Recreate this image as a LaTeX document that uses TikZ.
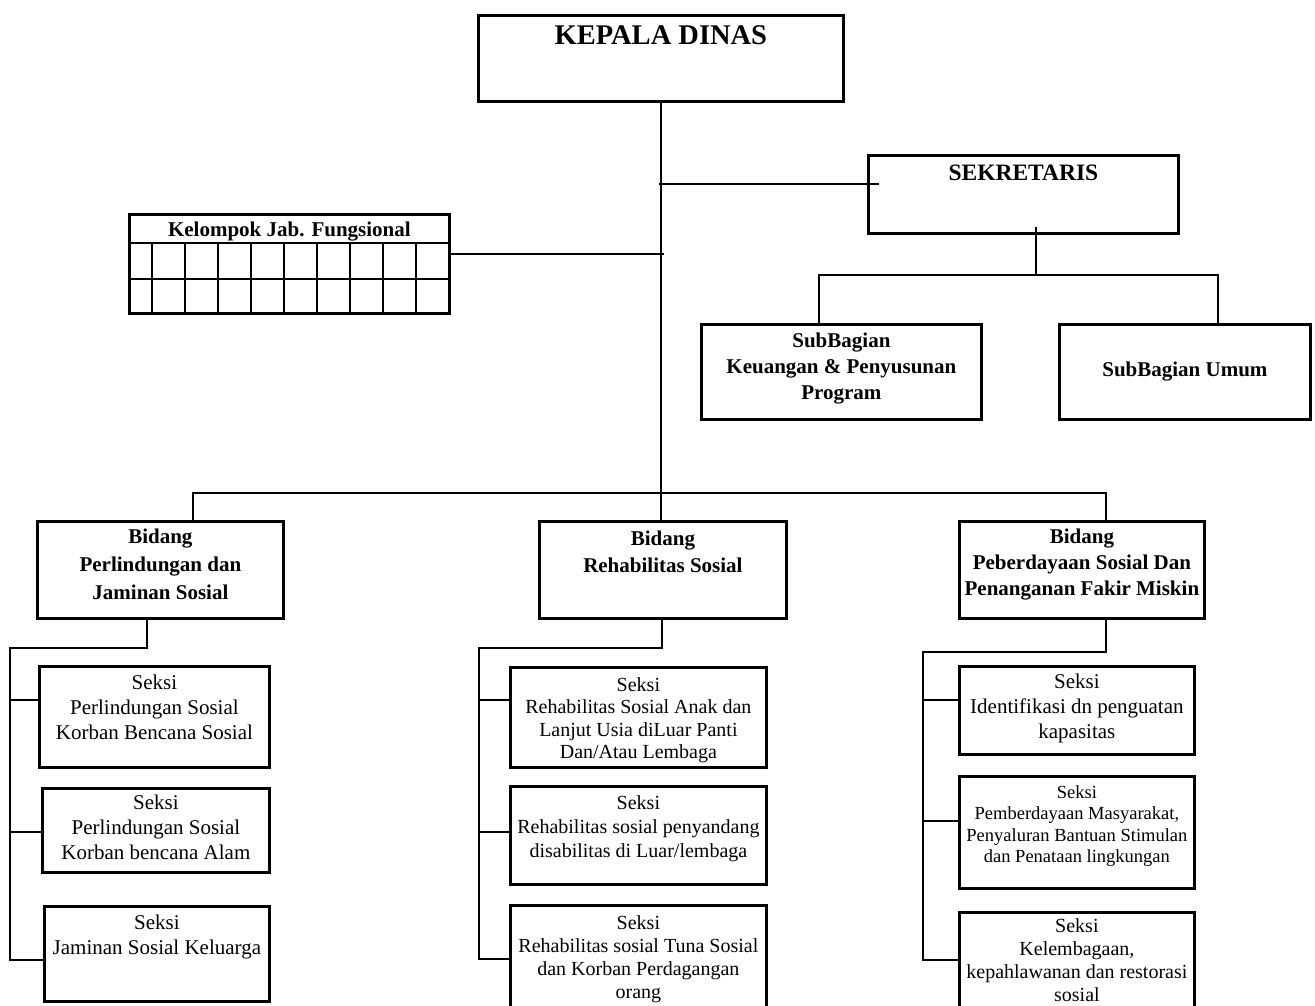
\documentclass[tikz,border=0pt]{standalone}
\usepackage{fontspec}
\setmainfont{Liberation Serif}
\usetikzlibrary{positioning}

\tikzset{
    box/.style={draw, line width=2.8pt, rectangle, anchor=north west, inner sep=0pt},
    conn/.style={line width=2.8pt, line cap=rect},
    headtxt/.style={font=\fontsize{21}{26}\selectfont\bfseries, align=center, inner sep=0pt, anchor=north},
    seksitxt/.style={font=\fontsize{21}{25}\selectfont, align=center, inner sep=0pt, anchor=north},
}

\begin{document}
\begin{tikzpicture}[x=1pt,y=-1pt]

    \clip (0,0) rectangle (1315,1006);

    %--------------------------------
    % Pimpinan dan sekretariat
    %--------------------------------
    \node[box, minimum width=365pt, minimum height=86pt] (kepala) at (477,14) {};
    \node[headtxt, font=\fontsize{28.5}{32}\selectfont\bfseries, below=11pt of kepala.north] (kepalaT) {KEPALA DINAS};

    \node[box, minimum width=310pt, minimum height=78pt] (sek) at (867,154) {};
    \node[headtxt, font=\fontsize{23.5}{27}\selectfont\bfseries, below=11pt of sek.north] (sekT) {SEKRETARIS};

    \node[box, minimum width=280pt, minimum height=95pt] (sbKeu) at (700,323) {};
    \node[headtxt, below=10pt of sbKeu.north] (sbKeuT) {SubBagian\\Keuangan \& Penyusunan\\Program};

    \node[box, minimum width=251pt, minimum height=95pt] (sbUmum) at (1058,323) {};
    \node[headtxt, anchor=center] (sbUmumT) at (sbUmum.center) {SubBagian Umum};

    %--------------------------------
    % Kelompok jabatan fungsional
    %--------------------------------
    \node[box, minimum width=320pt, minimum height=99pt] (kjf) at (128,213) {};
    \node[headtxt, below=9pt of kjf.north] (kjfT) {Kelompok Jab. Fungsional};
    \draw[line width=2.8pt] (128,243) -- (448,243);
    \draw[line width=2.8pt] (128,279) -- (448,279);
    \foreach \i in {0,...,8}{
        \draw[line width=2.8pt] ({152+33*\i},243) -- ({152+33*\i},312);
    }

    %--------------------------------
    % Bidang
    %--------------------------------
    \node[box, minimum width=246pt, minimum height=97pt] (bidL) at (36,520) {};
    \node[headtxt, font=\fontsize{21}{28}\selectfont\bfseries, below=9pt of bidL.north] (bidLT)
        {Bidang\\Perlindungan dan\\Jaminan Sosial};

    \node[box, minimum width=247pt, minimum height=97pt] (bidM) at (538,520) {};
    \node[headtxt, font=\fontsize{21}{27}\selectfont\bfseries, below=11pt of bidM.north] (bidMT)
        {Bidang\\Rehabilitas Sosial};

    \node[box, minimum width=245pt, minimum height=97pt] (bidR) at (958,520) {};
    \node[headtxt, below=9pt of bidR.north] (bidRT)
        {Bidang\\Peberdayaan Sosial Dan\\Penanganan Fakir Miskin};

    %--------------------------------
    % Seksi
    %--------------------------------
    \node[box, minimum width=230pt, minimum height=101pt] (sL1) at (38,665) {};
    \node[seksitxt, below=10pt of sL1.north] (sL1T) {Seksi\\Perlindungan Sosial\\Korban Bencana Sosial};
    \node[box, minimum width=227pt, minimum height=84pt] (sL2) at (41,787) {};
    \node[seksitxt, below=8pt of sL2.north] (sL2T) {Seksi\\Perlindungan Sosial\\Korban bencana Alam};
    \node[box, minimum width=225pt, minimum height=95pt] (sL3) at (43,905) {};
    \node[seksitxt, below=10pt of sL3.north] (sL3T) {Seksi\\Jaminan Sosial Keluarga};

    \node[box, minimum width=256pt, minimum height=100pt] (sM1) at (509,666) {};
    \node[seksitxt, font=\fontsize{20}{22.5}\selectfont, below=11pt of sM1.north] (sM1T)
        {Seksi\\Rehabilitas Sosial Anak dan\\Lanjut Usia diLuar Panti\\Dan/Atau Lembaga};
    \node[box, minimum width=256pt, minimum height=98pt] (sM2) at (509,785) {};
    \node[seksitxt, font=\fontsize{20}{24}\selectfont, below=10pt of sM2.north] (sM2T)
        {Seksi\\Rehabilitas sosial penyandang\\disabilitas di Luar/lembaga};
    \node[box, minimum width=256pt, minimum height=115pt] (sM3) at (509,904) {};
    \node[seksitxt, font=\fontsize{20}{23}\selectfont, below=11pt of sM3.north] (sM3T)
        {Seksi\\Rehabilitas sosial Tuna Sosial\\dan Korban Perdagangan\\orang};

    \node[box, minimum width=235pt, minimum height=88pt] (sR1) at (958,665) {};
    \node[seksitxt, below=9pt of sR1.north] (sR1T) {Seksi\\Identifikasi dn penguatan\\kapasitas};
    \node[box, minimum width=235pt, minimum height=112pt] (sR2) at (958,775) {};
    \node[seksitxt, font=\fontsize{18.5}{21.5}\selectfont, below=10pt of sR2.north] (sR2T)
        {Seksi\\Pemberdayaan Masyarakat,\\Penyaluran Bantuan Stimulan\\dan Penataan lingkungan};
    \node[box, minimum width=235pt, minimum height=110pt] (sR3) at (958,911) {};
    \node[seksitxt, font=\fontsize{20}{23}\selectfont, below=7pt of sR3.north] (sR3T)
        {Seksi\\Kelembagaan,\\kepahlawanan dan restorasi\\sosial};

    %--------------------------------
    % Garis komando
    %--------------------------------
    \coordinate (jSek) at (660,184);
    \coordinate (jKjf) at (663,254);
    \coordinate (barL) at (193,493);
    \coordinate (barR) at (1106,493);

    \draw[conn] (kepala.south) -- (kepala.south |- bidM.north);
    \draw[conn] (jSek) -- (sek.west |- jSek) -- ++(11,0);
    \draw[conn] (jKjf) -- (kjf.east |- jKjf);
    \draw[conn] (bidL.north -| barL) -- (barL) -- (barR) -- (bidR.north -| barR);

    % sekretariat ke subbagian
    \coordinate (sekDn) at (1036,228);
    \coordinate (sekBar) at (1036,275);
    \coordinate (keuUp) at (819,323);
    \coordinate (umUp) at (1218,323);
    \draw[conn] (sekDn) -- (sekBar);
    \draw[conn] (keuUp) -- (keuUp |- sekBar) -- (umUp |- sekBar) -- (umUp);

    % bidang ke seksi
    \coordinate (tL) at (10,648);
    \coordinate (tM) at (479,648);
    \coordinate (tR) at (923,652);
    \draw[conn] (bidL.south -| 147,0) -- (147,648) -- (tL) -- (tL |- 0,960);
    \draw[conn] (bidM.south -| 662,0) -- (662,648) -- (tM) -- (tM |- 0,959);
    \draw[conn] (bidR.south -| 1106,0) -- (1106,652) -- (tR) -- (tR |- 0,960);

    \foreach \s/\t/\yy in {sL1/tL/700, sL2/tL/832, sL3/tL/960,
                           sM1/tM/700, sM2/tM/832, sM3/tM/959,
                           sR1/tR/700, sR2/tR/821, sR3/tR/960}{
        \draw[conn] (\t |- 0,\yy) -- (\s.west |- 0,\yy);
    }

\end{tikzpicture}
\end{document}
